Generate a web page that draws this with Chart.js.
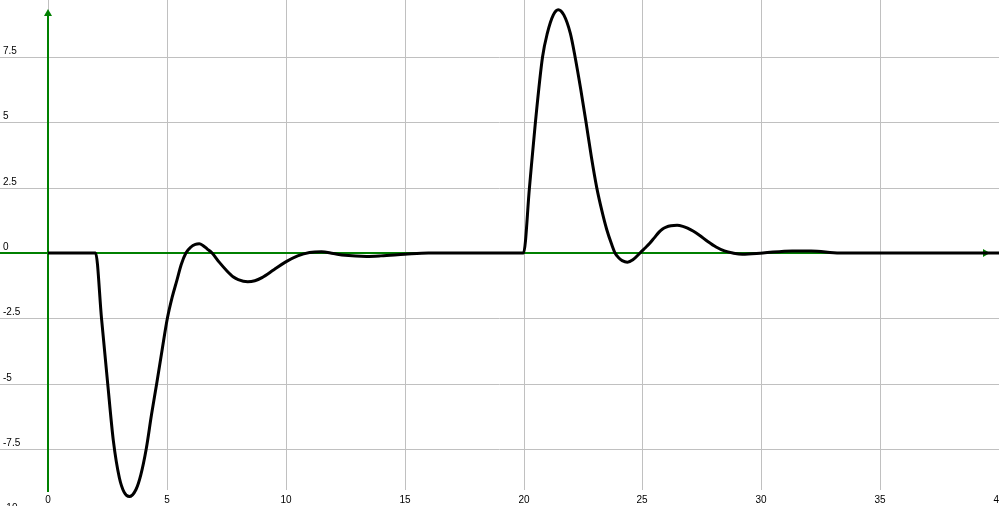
<!DOCTYPE html>
<html>
<head>
<meta charset="utf-8">
<script src="https://cdn.jsdelivr.net/npm/chart.js@4.4.0/dist/chart.umd.min.js"></script>
<style>
  body { margin: 0; background: #ffffff; }
  canvas { display: block; }
</style>
</head>
<body>
<canvas id="grafico" width="999" height="506"></canvas>
<script>

// valores
const valores_x = [0, 2, 2.25, 2.5, 2.75, 3.0, 3.2, 3.42, 3.7, 3.9, 4.13, 4.35, 4.57, 4.8, 5.02, 5.22, 5.42, 5.6, 5.8, 6.0, 6.2, 6.36, 6.5, 6.7, 6.9,
  7.2, 7.5, 7.8, 8.0, 8.4, 8.7, 9.0, 9.5, 10.0, 10.5, 11.0, 11.5, 12.0, 12.5, 13.4, 14.0, 15.0, 16.0,
  20.0, 20.25, 20.5, 20.8, 21.0, 21.25, 21.46, 21.7, 21.97, 22.17, 22.4, 22.63, 22.85, 23.08, 23.3, 23.5, 23.7, 23.85,
  24.0, 24.15, 24.37, 24.6, 24.9, 25.1, 25.3, 25.5, 25.7, 25.85, 26.0, 26.2, 26.46, 26.7, 26.9, 27.15, 27.4, 27.75, 28.1, 28.45, 28.8,
  29.2, 30.07, 31.3, 32.1, 33.3, 40]
const valores_y = [0, 0, -2.5, -4.9, -7.2, -8.6, -9.15, -9.32, -9.05, -8.5, -7.5, -6.2, -5.0, -3.7, -2.5, -1.7, -1.05, -0.45, 0, 0.22, 0.33, 0.35, 0.3, 0.15, 0,
  -0.35, -0.66, -0.92, -1.02, -1.1, -1.06, -0.94, -0.64, -0.34, -0.11, 0.02, 0.05, -0.02, -0.09, -0.13, -0.11, -0.05, 0,
  0, 2.5, 5.0, 7.5, 8.4, 9.1, 9.31, 9.1, 8.4, 7.5, 6.3, 5.0, 3.7, 2.5, 1.6, 0.9, 0.35, 0,
  -0.18, -0.29, -0.35, -0.26, 0, 0.18, 0.36, 0.58, 0.8, 0.92, 0.99, 1.04, 1.06, 1.02, 0.95, 0.83, 0.68, 0.44, 0.23, 0.08, 0,
  -0.05, 0, 0.08, 0.08, 0, 0]

const ticks_x = [0, 5, 10, 15, 20, 25, 30, 35, 40]
const ticks_y = [7.5, 5, 2.5, 0, -2.5, -5, -7.5, -10]

const pontos = []
for (var i = 0; i < valores_x.length; i++){
  pontos.push({x: valores_x[i], y: valores_y[i]})
}

const plugin_eixos = {
  id: 'eixos',
  beforeDatasetsDraw: (chart) => {
    const {ctx} = chart
    const sx = chart.scales.x
    const sy = chart.scales.y
    const x0 = Math.round(sx.getPixelForValue(0))
    const y0 = Math.round(sy.getPixelForValue(0))
    const base = 490

    ctx.save()
    // grade
    ctx.strokeStyle = '#c0c0c0'
    ctx.lineWidth = 1
    ticks_x.forEach(v => {
      const px = Math.round(sx.getPixelForValue(v)) + 0.5
      ctx.beginPath()
      ctx.moveTo(px, 0)
      ctx.lineTo(px, base)
      ctx.stroke()
    })
    ticks_y.forEach(v => {
      if (v == 0) return
      const py = Math.round(sy.getPixelForValue(v)) + 0.5
      ctx.beginPath()
      ctx.moveTo(0, py)
      ctx.lineTo(chart.width, py)
      ctx.stroke()
    })

    // eixos verdes
    ctx.strokeStyle = '#008000'
    ctx.fillStyle = '#008000'
    ctx.lineWidth = 2
    ctx.beginPath()
    ctx.moveTo(x0, base + 2)
    ctx.lineTo(x0, 12)
    ctx.stroke()
    ctx.beginPath()
    ctx.moveTo(0, y0)
    ctx.lineTo(986, y0)
    ctx.stroke()

    // setas
    ctx.beginPath()
    ctx.moveTo(x0, 9)
    ctx.lineTo(x0 - 4, 16)
    ctx.lineTo(x0 + 4, 16)
    ctx.closePath()
    ctx.fill()
    ctx.beginPath()
    ctx.moveTo(990, y0)
    ctx.lineTo(983, y0 - 4)
    ctx.lineTo(983, y0 + 4)
    ctx.closePath()
    ctx.fill()
    ctx.restore()
  },
  afterDatasetsDraw: (chart) => {
    const {ctx} = chart
    const sx = chart.scales.x
    const sy = chart.scales.y
    ctx.save()
    ctx.fillStyle = '#000000'
    ctx.font = '10px "Liberation Sans", Arial, sans-serif'
    ctx.textBaseline = 'alphabetic'
    ctx.textAlign = 'center'
    ticks_x.forEach(v => {
      ctx.fillText(String(v), Math.round(sx.getPixelForValue(v)), 503)
    })
    ctx.textAlign = 'left'
    ticks_y.forEach(v => {
      ctx.fillText(String(v), 3, Math.round(sy.getPixelForValue(v)) - 3)
    })
    ctx.restore()
  }
}

const grafico = new Chart(document.getElementById('grafico'), {
  type: 'line',
  data: {
    datasets: [{
      data: pontos,
      borderColor: '#000000',
      borderWidth: 3,
      pointRadius: 0,
      fill: false,
      cubicInterpolationMode: 'monotone',
      clip: false
    }]
  },
  options: {
    responsive: false,
    animation: false,
    devicePixelRatio: 1,
    layout: { padding: 0 },
    scales: {
      x: { type: 'linear', min: -2.02, max: 40, display: false },
      y: { min: -9.68, max: 9.68, display: false }
    },
    plugins: {
      legend: { display: false },
      tooltip: { enabled: false }
    }
  },
  plugins: [plugin_eixos]
})
</script>
</body>
</html>
